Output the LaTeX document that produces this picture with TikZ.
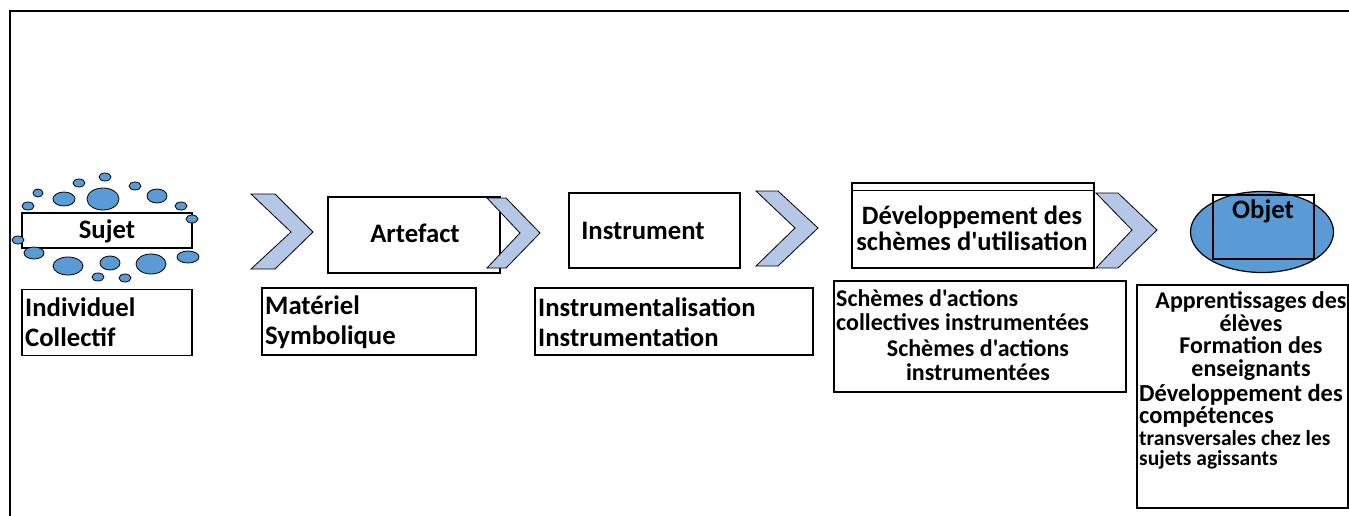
\documentclass[tikz,border=0pt]{standalone}
\usepackage{fontspec}
\setmainfont{Carlito}[Ligatures=TeXOff]
\usetikzlibrary{shapes.geometric}
\definecolor{chevfill}{HTML}{B4C7E7}
\definecolor{dotfill}{HTML}{5B9BD5}
\begin{document}
\begin{tikzpicture}[x=1pt,y=-1pt,
  box/.style={draw, line width=1.2pt, fill=white, inner sep=0pt},
  chev/.style={draw, line width=0.8pt, fill=chevfill, line join=miter},
  dot/.style={draw, line width=0.8pt, fill=dotfill},
  big/.style={inner sep=0pt, font=\bfseries\fontsize{26.7}{30}\selectfont},
  devf/.style={inner sep=0pt, font=\bfseries\fontsize{26.5}{26}\selectfont},
  mid/.style={inner sep=0pt, font=\bfseries\fontsize{24}{23.5}\selectfont},
  midb/.style={inner sep=0pt, font=\bfseries\fontsize{24}{22.7}\selectfont},
  small/.style={inner sep=0pt, font=\bfseries\fontsize{21.5}{20}\selectfont}]
\useasboundingbox (0,0) rectangle (1349,516);
% outer frame
\draw[line width=2.2pt] (10,516) -- (10,11) -- (1349,11);

% Sujet
\node[box, minimum width=170pt, minimum height=35pt] (sujetbox) at (107,230.5) {};
\node[big] (sujet) at (107,231) {Sujet};
\foreach \x/\y/\rx/\ry in {38/193/5/4, 28/206/6/4, 64/199/11/7, 79/183/6/4, 103/199/16/11,
  105/177/6/4, 135/186/6/4, 157/196/10/7, 181/206/6/4, 192/219/6/4, 18/240/6/4,
  34/253/10/6, 68/266/15/9, 110/263/10/7, 98/277/6/4, 125/278/6/4, 151/264/15/10, 188/257/11/6}
  \draw[dot] (\x,\y) ellipse [x radius=\rx pt, y radius=\ry pt];
\node[box, minimum width=170pt, minimum height=66pt] (indivbox) at (107,322.5) {};
\node[big, anchor=west, align=left] (indiv) at (25,322) {Individuel\\Collectif};

% chevron 1
\draw[chev] (251,194) -- (275,194) -- (313,232) -- (275,269) -- (251,269) -- (291,232) -- cycle;

% Artefact
\node[box, minimum width=172pt, minimum height=76pt] (artbox) at (414,235) {};
\node[big] (art) at (415,233) {Artefact};
\draw[chev] (487,198) -- (506,198) -- (540,233) -- (506,268) -- (487,268) -- (520,233) -- cycle;
\node[box, minimum width=214pt, minimum height=67pt] (matbox) at (369,321.5) {};
\node[big, anchor=west, align=left] (mat) at (265,322) {Matériel\\Symbolique};

% Instrument
\node[box, minimum width=171pt, minimum height=75pt] (instbox) at (654.5,230.5) {};
\node[big] (inst) at (643,231) {Instrument};
\draw[chev] (756,191) -- (778,191) -- (818,228) -- (778,266) -- (756,266) -- (795,228) -- cycle;
\node[box, minimum width=278pt, minimum height=67pt] (ibox) at (674,321.5) {};
\node[big, anchor=west, align=left] (itxt) at (538,322) {Instrumentalisation\\Instrumentation};

% Developpement
\node[box, minimum width=242pt, minimum height=85pt] (devbox) at (973,225.5) {};
\draw[line width=1.2pt] ([yshift=-8pt]devbox.north west) -- ([yshift=-8pt]devbox.north east);
\node[devf, align=center] (dev) at (972,228) {Développement des\\schèmes d'utilisation};
\draw[chev] (1096,193) -- (1118,193) -- (1157,230) -- (1118,268) -- (1096,268) -- (1132,230) -- cycle;
\node[box, minimum width=292pt, minimum height=111pt] (schbox) at (980,336.5) {};
\node[mid, anchor=west, align=left] (sch1) at (836,310) {Schèmes d'actions\\collectives instrumentées};
\node[mid, align=center] (sch2) at (978,360) {Schèmes d'actions\\instrumentées};

% Objet
\node[dot, ellipse, minimum width=143pt, minimum height=81pt, line width=1.2pt] (objell) at (1262,232) {};
\node[box, fill=none, minimum width=101pt, minimum height=64pt] (objrect) at (1263.5,227) {};
\node[big] (obj) at (1263,211) {Objet};
\node[box, minimum width=211pt, minimum height=223pt] (objbox) at (1242.5,396.5) {};
\node[midb, align=center] (obj1) at (1251,336) {Apprentissages des\\élèves\\Formation des\\enseignants};
\node[midb, anchor=west, align=left, font=\bfseries\fontsize{24.5}{22}\selectfont] (obj2) at (1139,406) {Développement des\\compétences};
\node[small, anchor=west, align=left] (obj3) at (1139,450) {transversales chez les\\sujets agissants};
\end{tikzpicture}
\end{document}
